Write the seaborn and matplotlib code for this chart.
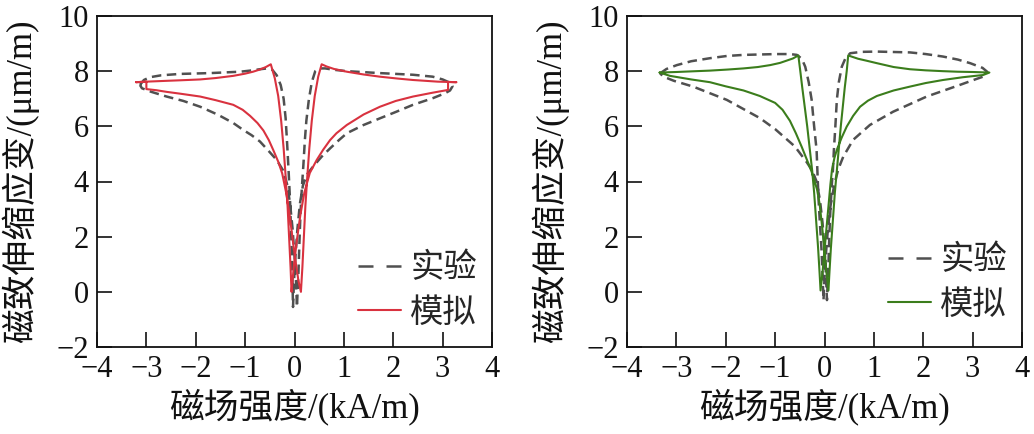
import numpy as np
import pandas as pd
import matplotlib
matplotlib.use("Agg")
import matplotlib.pyplot as plt
import seaborn as sns
from matplotlib.lines import Line2D

# ---------------- data ----------------
# Left panel: experiment (dashed grey) loop
exp1_H = [-3.13, -3.05, -2.93, -2.70, -2.32, -1.71, -1.10, -0.85, -0.70, -0.55, -0.45, -0.36, -0.28, -0.22,
          -0.18, -0.15, -0.12, -0.09, -0.07, -0.05, -0.04, -0.03,
          -0.01, 0.02, 0.06, 0.11, 0.17, 0.25, 0.38, 0.55, 0.72, 0.90, 1.06, 1.40, 1.73, 2.05, 2.40, 2.80,
          3.05, 3.15, 3.20,
          3.15, 3.00, 2.80, 2.40, 1.73, 1.06, 0.80, 0.62, 0.50, 0.42, 0.35, 0.29, 0.24, 0.21, 0.18, 0.15,
          0.12, 0.10, 0.08, 0.06, 0.05,
          0.03, 0.00, -0.04, -0.09, -0.15, -0.23, -0.36, -0.52, -0.70, -0.87, -1.04, -1.24, -1.55, -1.91,
          -2.25, -2.59, -2.90, -3.09, -3.13]
exp1_L = [7.50, 7.68, 7.78, 7.85, 7.90, 7.93, 7.98, 8.03, 8.07, 8.10, 8.05, 7.85, 7.50, 7.00,
          6.30, 5.40, 4.40, 3.30, 2.20, 1.20, 0.30, -0.55,
          0.40, 1.30, 2.30, 3.20, 3.85, 4.25, 4.55, 4.90, 5.20, 5.50, 5.75, 6.05, 6.29, 6.52, 6.78, 7.02,
          7.20, 7.30, 7.45,
          7.58, 7.70, 7.80, 7.87, 7.93, 8.00, 8.05, 8.10, 8.10, 8.00, 7.60, 6.96, 6.20, 5.50, 4.60, 3.80,
          2.80, 1.80, 0.70, -0.10, -0.55,
          0.40, 1.30, 2.30, 3.20, 3.90, 4.40, 4.78, 5.10, 5.45, 5.68, 5.87, 6.12, 6.42, 6.71,
          6.92, 7.08, 7.25, 7.38, 7.50]

# Left panel: simulation (red) loop
sim1_H = [-3.21, -3.00, -3.00, -2.80, -2.59, -2.30, -1.91, -1.60, -1.24, -1.05, -0.90, -0.75, -0.63, -0.52,
          -0.43, -0.33, -0.25, -0.17, -0.10, -0.03, 0.03, 0.08, 0.13,
          0.16, 0.19, 0.22, 0.26, 0.30, 0.35, 0.41, 0.48, 0.55,
          0.65, 0.80, 1.06, 1.40, 1.73, 2.10, 2.40, 2.90, 3.28, 3.11, 3.11,
          2.80, 2.40, 2.05, 1.73, 1.40, 1.06, 0.85, 0.72, 0.58, 0.45, 0.31, 0.20, 0.12, 0.05, -0.01,
          -0.04, -0.06,
          -0.08, -0.11, -0.14, -0.18, -0.22, -0.27, -0.33, -0.40, -0.48,
          -0.58, -0.70, -0.84, -1.00, -1.24, -1.60, -1.91, -2.30, -2.59, -3.00, -3.21]
sim1_L = [7.60, 7.62, 7.35, 7.31, 7.25, 7.18, 7.08, 6.95, 6.78, 6.60, 6.38, 6.12, 5.85, 5.50,
          5.14, 4.72, 4.30, 3.60, 2.80, 1.80, 1.00, 0.40, 0.00,
          0.90, 2.00, 3.10, 4.20, 5.20, 6.20, 7.10, 7.80, 8.25,
          8.17, 8.08, 7.98, 7.88, 7.80, 7.73, 7.68, 7.62, 7.60, 7.61, 7.32,
          7.22, 7.08, 6.92, 6.71, 6.43, 6.05, 5.75, 5.50, 5.15, 4.78, 4.31, 3.60, 2.80, 1.90, 1.00,
          0.40, 0.00,
          0.90, 2.00, 3.10, 4.20, 5.20, 6.20, 7.10, 7.75, 8.25,
          8.15, 8.06, 7.98, 7.91, 7.83, 7.75, 7.70, 7.67, 7.65, 7.62, 7.60]

# Right panel: experiment (dashed grey) loop
exp2_H = [-3.33, -3.20, -2.99, -2.70, -2.32, -1.98, -1.64, -0.97, -0.70, -0.56, -0.46, -0.39, -0.32,
          -0.26, -0.21, -0.16, -0.14, -0.12, -0.09, -0.06, -0.04, -0.02,
          0.00, 0.03, 0.07, 0.12, 0.20, 0.28, 0.38, 0.58, 0.92, 1.39, 2.07, 2.74, 3.05, 3.21, 3.30,
          3.20, 2.95, 2.70, 2.40, 2.05, 1.73, 1.06, 0.75, 0.52, 0.42, 0.35, 0.29, 0.25, 0.22, 0.19,
          0.17, 0.15, 0.12, 0.10, 0.08, 0.06, 0.05,
          0.03, 0.00, -0.04, -0.09, -0.16, -0.25, -0.36, -0.60, -1.00, -1.31, -1.98, -2.66, -3.05,
          -3.26, -3.33]
exp2_L = [7.92, 8.08, 8.22, 8.36, 8.47, 8.55, 8.59, 8.62, 8.62, 8.59, 8.45, 8.16, 7.60,
          6.96, 6.00, 5.14, 4.20, 3.33, 2.40, 1.52, 0.60, -0.30,
          0.50, 1.40, 2.30, 3.10, 3.90, 4.45, 4.90, 5.51, 6.05, 6.53, 7.08, 7.50, 7.70, 7.80, 7.97,
          8.12, 8.29, 8.42, 8.53, 8.62, 8.68, 8.71, 8.70, 8.65, 8.45, 8.16, 7.60, 6.96, 6.00, 5.14,
          4.40, 3.94, 3.00, 2.12, 1.00, 0.20, -0.30,
          0.60, 1.60, 2.50, 3.30, 4.00, 4.40, 4.70, 5.27, 5.90, 6.30, 6.96, 7.44, 7.65,
          7.80, 7.92]

# Right panel: simulation (green) loop
sim2_H = [-3.34, -3.00, -2.60, -2.32, -1.95, -1.64, -1.35, -1.10, -0.90, -0.77, -0.64, -0.53,
          -0.49, -0.45, -0.40, -0.35, -0.30, -0.25, -0.21, -0.17, -0.13, -0.10, -0.08,
          -0.04, 0.00, 0.04, 0.08, 0.12, 0.15, 0.20, 0.25, 0.35, 0.45, 0.58, 0.72, 0.88, 1.06, 1.40,
          1.73, 2.05, 2.40, 2.80, 3.21, 3.34,
          3.00, 2.70, 2.40, 2.05, 1.73, 1.40, 1.06, 0.85, 0.68, 0.48,
          0.45, 0.41, 0.37, 0.33, 0.29, 0.25, 0.21, 0.17, 0.13, 0.10, 0.08,
          0.04, 0.00, -0.05, -0.10, -0.15, -0.19, -0.26, -0.33, -0.46, -0.58, -0.70, -0.85, -1.00,
          -1.31, -1.64, -2.00, -2.32, -2.70, -3.13, -3.34]
sim2_L = [7.95, 7.97, 8.00, 8.02, 8.06, 8.10, 8.15, 8.22, 8.30, 8.38, 8.46, 8.57,
          8.00, 7.40, 6.70, 6.00, 5.20, 4.40, 3.60, 2.60, 1.60, 0.70, 0.05,
          0.70, 1.50, 2.30, 3.10, 3.90, 4.40, 4.85, 5.15, 5.60, 5.99, 6.38, 6.71, 6.93, 7.10, 7.30,
          7.44, 7.57, 7.68, 7.78, 7.86, 7.95,
          7.97, 7.98, 8.00, 8.03, 8.07, 8.15, 8.29, 8.38, 8.45, 8.57,
          8.00, 7.40, 6.70, 6.00, 5.20, 4.40, 3.60, 2.60, 1.60, 0.70, 0.05,
          0.70, 1.50, 2.40, 3.20, 3.70, 3.95, 4.35, 4.67, 5.25, 5.75, 6.20, 6.60, 6.85,
          7.10, 7.30, 7.45, 7.60, 7.70, 7.83, 7.95]

x_ticks = [-4, -3, -2, -1, 0, 1, 2, 3, 4]
y_ticks = [-2, 0, 2, 4, 6, 8, 10]
x_label = "磁场强度/(kA/m)"
y_label = "磁致伸缩应变/(μm/m)"
legend_labels = ["实验", "模拟"]

# ---------------- style ----------------
sns.set_theme(style="ticks")
plt.rcParams["font.family"] = ["Liberation Serif", "Noto Sans CJK SC", "DejaVu Sans"]
plt.rcParams["axes.unicode_minus"] = True

EXP_COLOR = "#505050"
RED = "#d9323f"
GREEN = "#3b7d1c"
FS_TICK = 22
FS_LABEL = 25
FS_LEG = 24
LW = 1.5
LW_EXP = 1.8
DASH = [3.8, 2.2]
DASH_LEG = [6.0, 5.2]

fig = plt.figure(figsize=(10.34, 4.34), dpi=100)
ax1 = fig.add_axes([97 / 1034, 1 - 347 / 434, 395 / 1034, 331 / 434])
ax2 = fig.add_axes([627 / 1034, 1 - 347 / 434, 395 / 1034, 331 / 434])

panels = [
    (ax1, exp1_H, exp1_L, sim1_H, sim1_L, RED, (0.811, 0.170)),
    (ax2, exp2_H, exp2_L, sim2_H, sim2_L, GREEN, (0.811, 0.194)),
]


def fmt(t):
    return ("−" + str(abs(t))) if t < 0 else str(t)


for ax, eH, eL, sH, sL, col, legpos in panels:
    df_e = pd.DataFrame({"H": eH, "L": eL})
    df_s = pd.DataFrame({"H": sH, "L": sL})
    sns.lineplot(data=df_e, x="H", y="L", sort=False, estimator=None, ax=ax,
                 color=EXP_COLOR, lw=LW_EXP, zorder=2)
    ax.lines[-1].set_dashes(DASH)
    sns.lineplot(data=df_s, x="H", y="L", sort=False, estimator=None, ax=ax,
                 color=col, lw=LW, zorder=3)

    ax.set_xlim(-4, 4)
    ax.set_ylim(-2, 10)
    ax.set_xticks(x_ticks)
    ax.set_yticks(y_ticks)
    ax.set_xticklabels([fmt(t) for t in x_ticks])
    ax.set_yticklabels([fmt(t) for t in y_ticks])
    ax.tick_params(direction="in", length=11, width=1.2, labelsize=FS_TICK, pad=6,
                   colors="#111111", top=False, right=False)
    for sp in ax.spines.values():
        sp.set_visible(True)
        sp.set_linewidth(1.3)
        sp.set_color("#111111")
    ax.set_xlabel(x_label, fontsize=FS_LABEL, labelpad=3, color="#111111")
    ax.set_ylabel(y_label, fontsize=FS_LABEL, labelpad=12, color="#111111")

    handles = [Line2D([], [], color=EXP_COLOR, lw=LW_EXP, dashes=DASH_LEG),
               Line2D([], [], color=col, lw=LW)]
    ax.legend(handles, legend_labels, loc="center", bbox_to_anchor=legpos,
              frameon=False, fontsize=FS_LEG, handlelength=1.3, handletextpad=0.27,
              labelspacing=0.4, borderpad=0.1)

fig.savefig("out.png", dpi=100)
